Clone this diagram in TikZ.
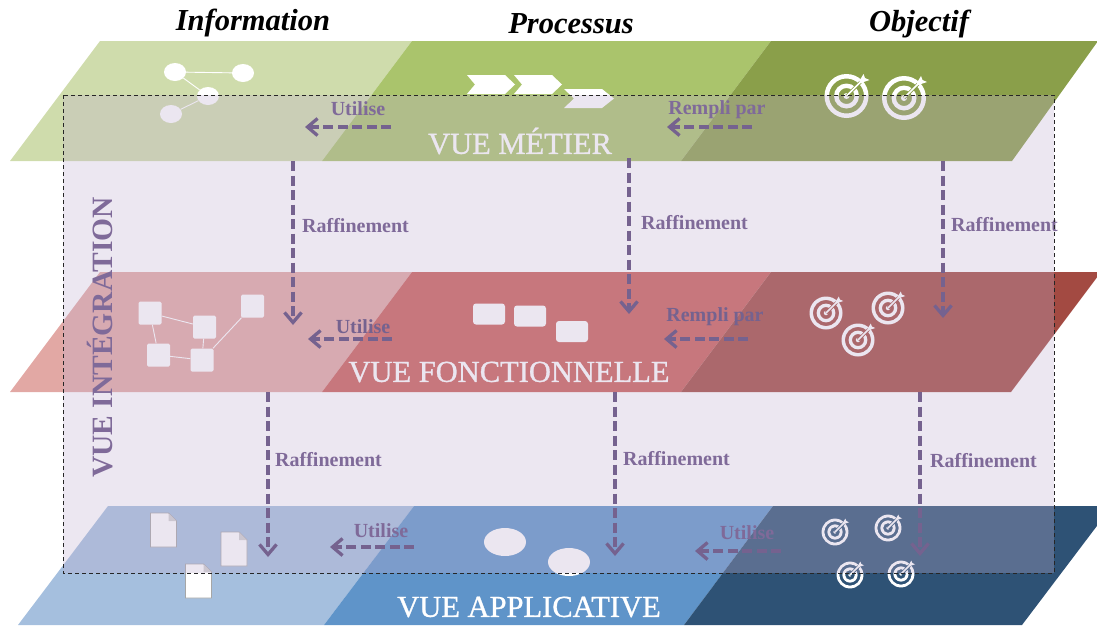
\documentclass[tikz,border=0pt]{standalone}
\usepackage{fontspec}
\setmainfont{Liberation Serif}
\newfontfamily\vuefont[FakeBold=1]{Liberation Serif}
\usetikzlibrary{arrows.meta}
\definecolor{gA}{HTML}{CFDCAC}\definecolor{gB}{HTML}{AAC46C}\definecolor{gC}{HTML}{8A9F4A}
\definecolor{rA}{HTML}{E2A8A4}\definecolor{rB}{HTML}{CB605A}\definecolor{rC}{HTML}{A34A42}
\definecolor{bA}{HTML}{A5BFDE}\definecolor{bB}{HTML}{5F94C9}\definecolor{bC}{HTML}{2E5275}
\definecolor{voile}{RGB}{192,175,208}
\definecolor{violet}{HTML}{75628F}\definecolor{violetT}{HTML}{7F6A99}
\tikzset{
 x=1pt,y=-1pt,
 lien/.style={white,line width=0.9pt},
 fl/.style={violet,line width=3.5pt,dash pattern=on 10pt off 4.5pt,-{Straight Barb[length=10pt,width=17pt,line width=3.3pt]}},
 etiq/.style={inner sep=0pt,text=violetT,font=\bfseries\fontsize{20}{20}\selectfont},
 etiqs/.style={inner sep=0pt,text=violet,font=\bfseries\fontsize{20}{20}\selectfont},
 titre/.style={inner sep=0pt,text=black,font=\bfseries\itshape\fontsize{30.5}{30.5}\selectfont},
 vue/.style={inner sep=0pt,text=white,font=\vuefont\fontsize{30.5}{30.5}\selectfont},
 ell/.style={ellipse,fill=white,inner sep=0pt},
 carre/.style={fill=white,rounded corners=1.5pt,minimum width=23pt,minimum height=23pt,inner sep=0pt},
 bloc/.style={fill=white,rounded corners=3pt,minimum width=32pt,minimum height=21pt,inner sep=0pt},
 pics/cible/.style={code={
  \fill[white,even odd rule] (0,0) circle (22) (0,0) circle (17.5) (0,0) circle (12.5) (0,0) circle (8);
  \fill[white] (0,0) circle (3);
  \draw[#1,line width=3.2pt] (0,0) -- (14,-14);
  \draw[white,line width=1.6pt] (0,0) -- (14,-14);
  \fill[white] (12,-12) -- (14,-17) -- (17,-22) -- (18.5,-18) -- (23,-16) -- (17,-14) -- cycle;
 }},
 pics/doc/.style={code={
  \draw[fill=white,draw=black!35,line width=0.8pt] (0,0) -- (18,0) -- (26,8) -- (26,34) -- (0,34) -- cycle;
  \fill[black!18] (18,0) -- (26,8) -- (18,8) -- cycle;
 }},
}
\usetikzlibrary{shapes.geometric}
\begin{document}
\begin{tikzpicture}
\useasboundingbox (0,0) rectangle (1097,625);
\begin{scope}
\clip (0,0) rectangle (1097,625);
% couche metier
\fill[gA] (10,161) -- (100,41) -- (412,41) -- (322,161) -- cycle;
\fill[gB] (322,161) -- (412,41) -- (771,41) -- (681,161) -- cycle;
\fill[gC] (681,161) -- (771,41) -- (1098,41) -- (1012,161) -- cycle;
% couche fonctionnelle
\fill[rA] (10,392) -- (100,272) -- (412,272) -- (322,392) -- cycle;
\fill[rB] (322,392) -- (412,272) -- (771,272) -- (681,392) -- cycle;
\fill[rC] (681,392) -- (771,272) -- (1101,272) -- (1011,392) -- cycle;
% couche applicative
\fill[bA] (18,625) -- (108,506) -- (414,506) -- (324,625) -- cycle;
\fill[bB] (324,625) -- (414,506) -- (773,506) -- (684,625) -- cycle;
\fill[bC] (684,625) -- (773,506) -- (1112,506) -- (1022,625) -- cycle;
\end{scope}
% titres des vues
\node[vue] (vm) at (520,141) {VUE MÉTIER};
\node[vue] (vf) at (509,372) {VUE FONCTIONNELLE};
\node[vue] (va) at (529,607) {VUE APPLICATIVE};
% graphe metier
\node[ell,minimum width=22pt,minimum height=18pt] (m1) at (175,72) {};
\node[ell,minimum width=22pt,minimum height=18pt] (m2) at (243,73) {};
\node[ell,minimum width=22pt,minimum height=18pt] (m3) at (208,96) {};
\node[ell,minimum width=22pt,minimum height=18pt] (m4) at (171,114) {};
\draw[lien] (m1) -- (m2);
\draw[lien] (m1) -- (m3);
\draw[lien] (m3) -- (m4);
% chevrons
\fill[white] (467,75) -- (505,75) -- (515,84.5) -- (505,94) -- (467,94) -- (475,84.5) -- cycle;
\fill[white] (514,75) -- (552,75) -- (562,84.5) -- (552,94) -- (514,94) -- (522,84.5) -- cycle;
\fill[white] (564,89) -- (602,89) -- (614,98.5) -- (602,108) -- (564,108) -- (574,98.5) -- cycle;
% cibles
\pic at (846.5,96) {cible=gC};
\pic at (904,98) {cible=gC};
\pic[scale=.75] at (826,313) {cible=rC};
\pic[scale=.75] at (888,308) {cible=rC};
\pic[scale=.75] at (858,340) {cible=rC};
\pic[scale=.61] at (835,532) {cible=bC};
\pic[scale=.61] at (888,528) {cible=bC};
\pic[scale=.61] at (850,575) {cible=bC};
\pic[scale=.61] at (901,574) {cible=bC};
% graphe fonctionnel
\node[carre] (f1) at (150,313) {};
\node[carre] (f2) at (204.5,327) {};
\node[carre] (f3) at (158.5,355) {};
\node[carre] (f4) at (202,360) {};
\node[carre] (f5) at (252.5,306) {};
\draw[lien] (f1) -- (f2);
\draw[lien] (f1) -- (f3);
\draw[lien] (f2) -- (f4);
\draw[lien] (f3) -- (f4);
\draw[lien] (f4) -- (f5);
\node[bloc] (b1) at (489,314) {};
\node[bloc] (b2) at (530,316) {};
\node[bloc] (b3) at (572,331.5) {};
% documents et ellipses
\pic at (150.5,513) {doc};
\pic at (221,532) {doc};
\pic at (185.5,564) {doc};
\node[ell,minimum width=42pt,minimum height=28pt] (e1) at (505,542) {};
\node[ell,minimum width=42pt,minimum height=28pt] (e2) at (569,562) {};
% voile integration
\fill[voile,fill opacity=.3] (63,95) rectangle (1054,573);
\node[inner sep=0pt,text=violetT,rotate=90,font=\bfseries\fontsize{29.5}{29.5}\selectfont] (vi) at (100,337.5) {VUE INTÉGRATION};
% titres de colonnes
\node[titre] (t1) at (253,23) {Information};
\node[titre] (t2) at (571,24) {Processus};
\node[titre] (t3) at (919,24) {Objectif};
% ancrages des fleches
\coordinate (a1) at (293,161); \coordinate (a2) at (293,325);
\coordinate (a3) at (629,158); \coordinate (a4) at (629,314);
\coordinate (a5) at (943,161); \coordinate (a6) at (943,318);
\coordinate (a7) at (268,392); \coordinate (a8) at (268,557);
\coordinate (a9) at (615,392); \coordinate (a10) at (615,556);
\coordinate (a11) at (920,392); \coordinate (a12) at (920,556);
\coordinate (h1) at (391,127); \coordinate (h2) at (305,127);
\coordinate (h3) at (752,127); \coordinate (h4) at (667,127);
\coordinate (h5) at (392,339); \coordinate (h6) at (308,339);
\coordinate (h7) at (748,339); \coordinate (h8) at (664,339);
\coordinate (h9) at (414,547); \coordinate (h10) at (330,547);
\coordinate (h11) at (781,551); \coordinate (h12) at (695,551);
\foreach \d/\f in {a1/a2,a3/a4,a5/a6,a7/a8,a9/a10,a11/a12,h1/h2,h3/h4,h5/h6,h7/h8,h9/h10,h11/h12}
  \draw[fl] (\d) -- (\f);
% etiquettes
\node[etiq] (l1) at (358,109) {Utilise};
\node[etiq] (l2) at (717,110) {Rempli par};
\node[etiqs] (l3) at (363,327) {Utilise};
\node[etiqs] (l4) at (715,317) {Rempli par};
\node[etiq] (l5) at (381,531) {Utilise};
\node[etiq] (l6) at (747,533) {Utilise};
\node[etiq,anchor=west] (r1) at (302,226) {Raffinement};
\node[etiq,anchor=west] (r2) at (641,223) {Raffinement};
\node[etiq,anchor=west] (r3) at (951,225) {Raffinement};
\node[etiq,anchor=west] (r4) at (275,460) {Raffinement};
\node[etiq,anchor=west] (r5) at (623,459) {Raffinement};
\node[etiq,anchor=west] (r6) at (930,461) {Raffinement};
% cadre
\draw[black!85,line width=0.85pt,dash pattern=on 4pt off 3pt] (63,95) rectangle (1054,573);
\end{tikzpicture}
\end{document}
